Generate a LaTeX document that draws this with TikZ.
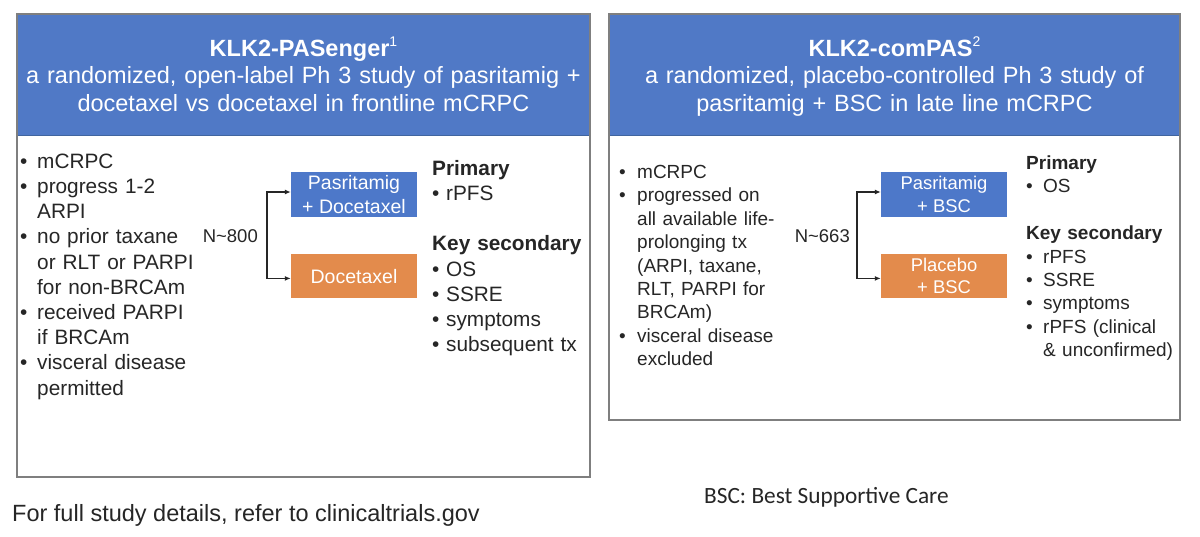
\documentclass[tikz,border=0pt]{standalone}
\usepackage{fontspec}
\setmainfont{Liberation Sans}
\newfontfamily\calibri{Carlito}
\usepackage{tikz}
\usetikzlibrary{arrows.meta, positioning}
\definecolor{hdr}{HTML}{5079C6}
\definecolor{hdredge}{HTML}{41659F}
\definecolor{armblue}{HTML}{4D78C9}
\definecolor{armorange}{HTML}{E38B4C}
\definecolor{ink}{HTML}{262626}
\definecolor{frame}{HTML}{7F7F7F}
\newcommand{\itm}[1][17pt]{\makebox[#1][l]{\textbullet}}
\newcommand{\ind}[1][17pt]{\hspace*{#1}}
\newcommand{\fl}{\rule{0pt}{1em}}
\newcommand{\sups}[1]{\raisebox{0.42em}{\mdseries\fontsize{14}{14}\selectfont #1}}
\tikzset{
  panel/.style  ={draw=frame, line width=1.5pt},
  header/.style ={fill=hdr, draw=hdredge, line width=1pt},
  hdrtext/.style={anchor=north, inner sep=0pt, align=center, text width=560pt,
                  text=white, font=\fontsize{23.5}{27.5}\selectfont},
  arm/.style    ={minimum width=126pt, minimum height=45pt, inner sep=0pt,
                  align=center, text=white},
  armb/.style   ={arm, fill=armblue},
  armo/.style   ={arm, fill=armorange},
  listl/.style  ={anchor=north west, inner sep=0pt, align=left, text=ink,
                  font=\fontsize{20.8}{25.2}\selectfont},
  listr/.style  ={anchor=north west, inner sep=0pt, align=left, text=ink,
                  font=\fontsize{19}{23.45}\selectfont},
  nlabel/.style ={anchor=base east, inner sep=0pt, text=ink,
                  font=\fontsize{18.5}{22}\selectfont},
  split/.style  ={-{Latex[length=6pt,width=5pt]}, line width=1.2pt, draw=ink}
}
\begin{document}
\begin{tikzpicture}[x=1pt, y=-1pt]
  \useasboundingbox (0,0) rectangle (1200,536);
  \fill[white] (0,0) rectangle (1200,536);

  % KLK2-PASenger
  \filldraw[header] (17,14) rectangle (590,135);
  \draw[panel] (17,14) rectangle (590,477);
  \node[hdrtext] (lhdr) at (303.5,32.5)
    {\fl\textbf{KLK2-PASenger}\sups{1}\\
     a randomized, open-label Ph 3 study of pasritamig +\\
     docetaxel vs docetaxel in frontline mCRPC};
  \node[listl, text width=200pt] (lelig) at (20,147.2)
    {\fl\itm mCRPC\\
     \itm progress 1-2\\
     \ind ARPI\\
     \itm no prior taxane\\
     \ind or RLT or PARPI\\
     \ind for non-BRCAm\\
     \itm received PARPI\\
     \ind if BRCAm\\
     \itm visceral disease\\
     \ind permitted};
  \node[armb, font=\fontsize{19.5}{24}\selectfont] (lpas) at (354,194.5)
    {Pasritamig\\+ Docetaxel};
  \node[armo, below=37pt of lpas, minimum height=44pt,
        font=\fontsize{19.5}{24}\selectfont] (ldoc) {Docetaxel};
  \node[listl, text width=170pt] (lends) at (432,154.2)
    {\fl\textbf{Primary}\\
     \itm[14pt]rPFS\\[25.2pt]
     \textbf{Key secondary}\\
     \itm[14pt]OS\\
     \itm[14pt]SSRE\\
     \itm[14pt]symptoms\\
     \itm[14pt]subsequent tx};
  \coordinate (lsplit) at (267,235);
  \node[nlabel] (ln) at (258,242) {N\textasciitilde 800};
  \draw[split] (lsplit) |- ([yshift=2.5pt]lpas.west);
  \draw[split] (lsplit) |- ([yshift=-2pt]ldoc.west);

  % KLK2-comPAS
  \filldraw[header] (609,14) rectangle (1180,135);
  \draw[panel] (609,14) rectangle (1180,420);
  \node[hdrtext] (rhdr) at (894.5,32.5)
    {\fl\textbf{KLK2-comPAS}\sups{2}\\
     a randomized, placebo-controlled Ph 3 study of\\
     pasritamig + BSC in late line mCRPC};
  \node[listr, text width=170pt] (relig) at (619,159)
    {\fl\itm[18pt]mCRPC\\
     \itm[18pt]progressed on\\
     \ind[18pt]all available life-\\
     \ind[18pt]prolonging tx\\
     \ind[18pt](ARPI, taxane,\\
     \ind[18pt]RLT, PARPI for\\
     \ind[18pt]BRCAm)\\
     \itm[18pt]visceral disease\\
     \ind[18pt]excluded};
  \node[armb, font=\fontsize{18.4}{23}\selectfont] (rpas) at (944,194.5)
    {Pasritamig\\+ BSC};
  \node[armo, below=37pt of rpas, minimum height=44pt,
        font=\fontsize{18.4}{22}\selectfont] (rplc) {Placebo\\+ BSC};
  \node[listr, text width=170pt] (rends) at (1026,150)
    {\fl\textbf{Primary}\\
     \itm[17pt]OS\\[23.45pt]
     \textbf{Key secondary}\\
     \itm[17pt]rPFS\\
     \itm[17pt]SSRE\\
     \itm[17pt]symptoms\\
     \itm[17pt]rPFS (clinical\\
     \ind[17pt]\& unconfirmed)};
  \coordinate (rsplit) at (857,235);
  \node[nlabel] (rn) at (850,242) {N\textasciitilde 663};
  \draw[split] (rsplit) |- ([yshift=2.5pt]rpas.west);
  \draw[split] (rsplit) |- ([yshift=-2pt]rplc.west);

  % notes
  \node[anchor=base west, inner sep=0pt, text=ink,
        font=\fontsize{23.5}{27}\selectfont] (foot) at (12,521)
    {For full study details, refer to clinicaltrials.gov};
  \node[anchor=base west, inner sep=0pt, text=ink,
        font=\calibri\fontsize{23.3}{27}\selectfont] (bscnote) at (704,503)
    {BSC: Best Supportive Care};
\end{tikzpicture}
\end{document}
